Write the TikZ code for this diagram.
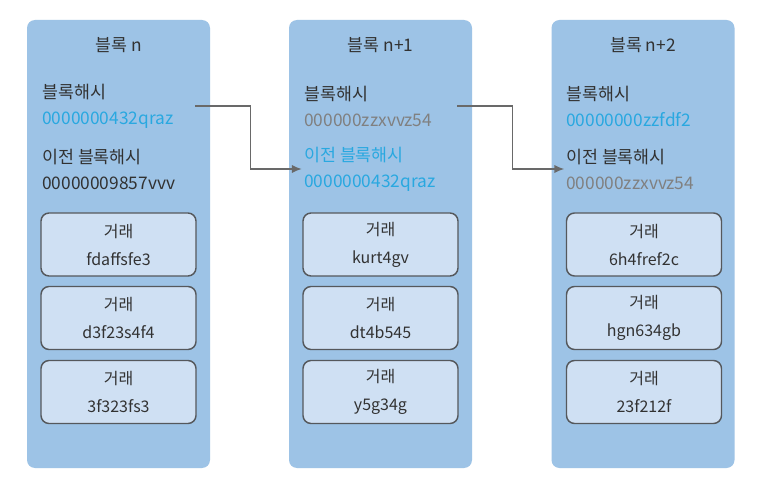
\documentclass[tikz,border=0pt]{standalone}
\usepackage{fontspec}
\setmainfont{Noto Sans CJK KR}
\usetikzlibrary{arrows.meta,positioning}
\definecolor{blockfill}{RGB}{157,195,230}
\definecolor{txfill}{RGB}{207,224,243}
\definecolor{txborder}{RGB}{85,88,92}
\definecolor{textdark}{RGB}{50,50,50}
\definecolor{hashblue}{RGB}{41,168,224}
\definecolor{hashgray}{RGB}{128,128,128}
\definecolor{linkgray}{RGB}{105,105,105}
\tikzstyle{blockbox}=[fill=blockfill, rounded corners=6pt, minimum width=137.25pt, minimum height=336pt, inner sep=0pt]
\tikzstyle{txbox}=[draw=txborder, line width=1.1pt, fill=txfill, rounded corners=6pt, minimum width=116.25pt, minimum height=47.25pt, align=center, inner sep=0pt, text=textdark, font=\fontsize{12}{21}\selectfont]
\tikzstyle{hashtext}=[anchor=west, align=left, inner sep=0pt, text=textdark, font=\fontsize{13}{19.5}\selectfont]
\tikzstyle{blocktitle}=[inner sep=0pt, text=textdark, font=\fontsize{13}{16}\selectfont]
\tikzstyle{hashLink}=[draw=linkgray, line width=1.1pt, -{Latex[length=2.6mm,width=2.2mm]}]

\begin{document}
\begin{tikzpicture}[x=0.75pt, y=-0.75pt]
    \useasboundingbox[fill=white] (0,0) rectangle (769,485);

    % Blocks
    \node[blockbox] (blk1) at (118.5,244) {};
    \node[blockbox] (blk2) at (380.5,244) {};
    \node[blockbox] (blk3) at (643,244) {};

    \node[blocktitle] (title1) at (118.5,45) {블록 n};
    \node[blocktitle] (title2) at (380.5,45) {블록 n+1};
    \node[blocktitle] (title3) at (643,45) {블록 n+2};

    % Hashes
    \node[hashtext] (hash1) at (42,106) {블록해시\\\textcolor{hashblue}{0000000432qraz}};
    \node[hashtext] (prev1) at (42,169) {이전 블록해시\\00000009857vvv};
    \node[hashtext] (hash2) at (304,106) {블록해시\\\textcolor{hashgray}{000000zzxvvz54}};
    \node[hashtext, text=hashblue] (prev2) at (304,169) {이전 블록해시\\0000000432qraz};
    \node[hashtext] (hash3) at (566,106) {블록해시\\\textcolor{hashblue}{00000000zzfdf2}};
    \node[hashtext] (prev3) at (566,169) {이전 블록해시\\\textcolor{hashgray}{000000zzxvvz54}};

    % Transactions
    \node[txbox] (tx11) at (118.5,244.5) {거래\\fdaffsfe3};
    \node[txbox] (tx12) at (118.5,318) {거래\\d3f23s4f4};
    \node[txbox] (tx13) at (118.5,392) {거래\\3f323fs3};
    \node[txbox] (tx21) at (380.5,244.5) {거래\\kurt4gv};
    \node[txbox] (tx22) at (380.5,318) {거래\\dt4b545};
    \node[txbox] (tx23) at (380.5,392) {거래\\y5g34g};
    \node[txbox] (tx31) at (644,244.5) {거래\\6h4fref2c};
    \node[txbox] (tx32) at (644,318) {거래\\hgn634gb};
    \node[txbox] (tx33) at (644,392) {거래\\23f212f};

    % Links
    \draw[hashLink] ([xshift=-11.25pt]blk1.east |- hash1) -- ++(55,0) |- ([xshift=9.75pt]blk2.west |- prev2);
    \draw[hashLink] ([xshift=-11.25pt]blk2.east |- hash2) -- ++(55,0) |- ([xshift=9.75pt]blk3.west |- prev3);
\end{tikzpicture}
\end{document}
